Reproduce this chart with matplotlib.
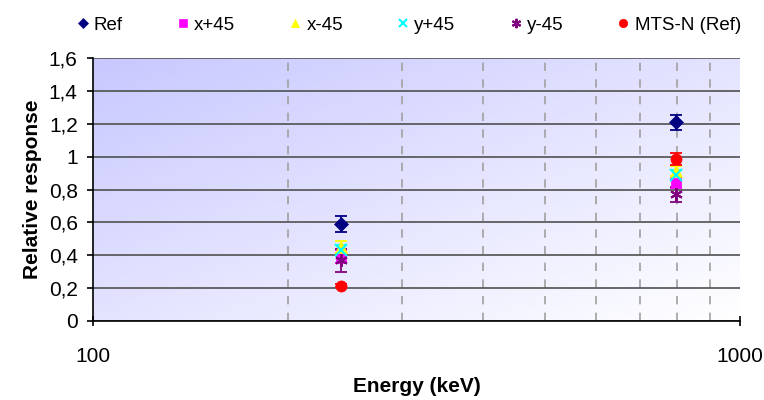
import numpy as np
import matplotlib
matplotlib.use('Agg')
from matplotlib import pyplot as plt
from matplotlib.colors import LinearSegmentedColormap
from matplotlib.ticker import FixedLocator, FuncFormatter, NullFormatter

## data
energy = [242, 796]

ref = [0.59, 1.21]
ref_err = [0.05, 0.045]
xp45 = [0.39, 0.84]
xp45_err = [0.04, 0.03]
xm45 = [0.45, 0.91]
xm45_err = [0.035, 0.03]
yp45 = [0.43, 0.89]
yp45_err = [0.035, 0.03]
ym45 = [0.37, 0.77]
ym45_err = [0.07, 0.045]
mts = [0.215, 0.985]
mts_err = [0.01, 0.035]

series = [
    ("Ref", ref, ref_err, "D", "#000080", 7),
    ("x+45", xp45, xp45_err, "s", "#ff00ff", 7),
    ("x-45", xm45, xm45_err, "^", "#ffff00", 8),
    ("y+45", yp45, yp45_err, "x", "#00ffff", 8),
    ("y-45", ym45, ym45_err, (6, 2, 0), "#800080", 9),
    ("MTS-N (Ref)", mts, mts_err, "o", "#ff0000", 8),
]

plt.rcParams['font.family'] = ['Liberation Sans', 'DejaVu Sans']

fig = plt.figure(figsize=(7.64, 4.0), dpi=100)
ax = fig.add_axes([93/764, 1 - 321/400, 647/764, 263/400])

## diagonal background fade
cmap = LinearSegmentedColormap.from_list("bg", ["#c8c8ff", "#ffffff"])
gx, gy = np.meshgrid(np.linspace(0, 1, 200), np.linspace(0, 1, 200))
grad = (gx + gy) / 2
ax.imshow(grad, cmap=cmap, extent=[0, 1, 0, 1], transform=ax.transAxes,
          aspect='auto', origin='upper', zorder=0)

handles = []
for name, vals, errs, mk, col, ms in series:
    ax.errorbar(energy, vals, yerr=errs, fmt='none', ecolor=col,
                elinewidth=1.3, capsize=4.5, capthick=1.3, zorder=3)
    h, = ax.plot(energy, vals, linestyle='none', marker=mk, color=col,
                 markersize=ms, markeredgewidth=1.5 if mk in ("x", (6, 2, 0)) else 0.5,
                 markeredgecolor=col, zorder=4, label=name)
    handles.append(h)

ax.set_xscale('log')
ax.set_xlim(100, 1000)
ax.set_ylim(0, 1.6)
ax.set_yticks(np.arange(0, 1.61, 0.2))
ax.yaxis.set_major_formatter(FuncFormatter(
    lambda v, p: ('%g' % round(v, 1)).replace('.', ',')))
ax.xaxis.set_major_locator(FixedLocator([100, 1000]))
ax.xaxis.set_major_formatter(FuncFormatter(lambda v, p: '%d' % v))
ax.xaxis.set_minor_locator(FixedLocator([200, 300, 400, 500, 600, 700, 800, 900]))
ax.xaxis.set_minor_formatter(NullFormatter())

ax.grid(True, axis='y', which='major', color='#505050', linewidth=1.2, zorder=1)
ax.grid(True, axis='x', which='minor', color='#a0a0a0', linestyle=(0, (5, 5)),
        linewidth=1.2, zorder=1)
ax.set_axisbelow(True)
for s in ['top', 'right']:
    ax.spines[s].set_visible(False)
ax.spines['left'].set_linewidth(1.2)
ax.spines['bottom'].set_linewidth(1.2)
ax.tick_params(axis='y', which='major', length=4, width=1.2, labelsize=15, pad=7)
ax.tick_params(axis='x', which='major', length=7, width=1.2, labelsize=15,
               pad=15, direction='inout')
ax.tick_params(axis='x', which='minor', length=0)

ax.set_xlabel("Energy (keV)", fontsize=15, fontweight='bold', labelpad=8)
ax.set_ylabel("Relative response", fontsize=15, fontweight='bold', labelpad=5)

fig.legend(handles=handles, loc='upper left', bbox_to_anchor=(60/764, 1),
           ncol=6, frameon=False, fontsize=13.5, handlelength=0.6,
           handletextpad=0.3, columnspacing=2.9, markerscale=0.75)

plt.savefig('out.png', dpi=100)
